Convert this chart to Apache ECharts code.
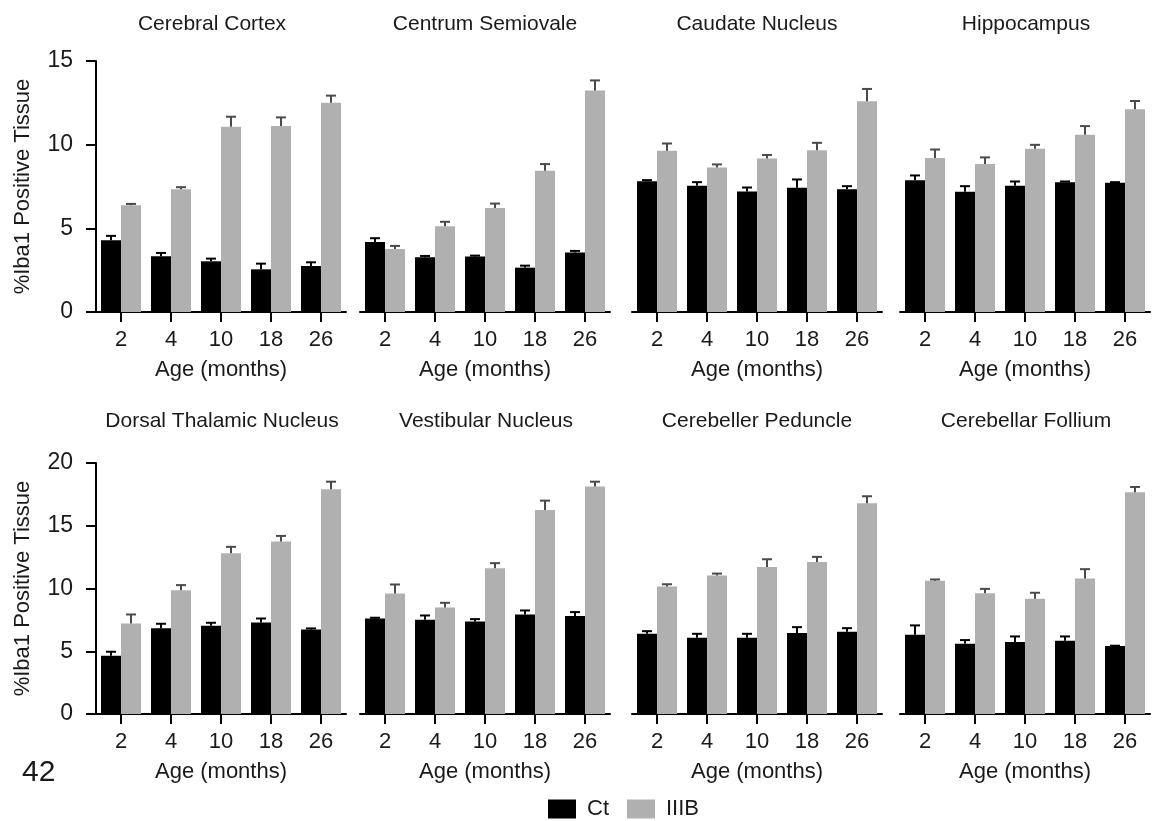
<!DOCTYPE html>
<html>
<head>
<meta charset="utf-8">
<script src="https://cdn.jsdelivr.net/npm/echarts@6/dist/echarts.min.js"></script>
<style>
  html, body { margin: 0; padding: 0; background: #fff; }
  #chart { width: 1154px; height: 821px; }
</style>
</head>
<body>
<div id="chart"></div>
<script>
// ---- Data ----
const categories = ['2', '4', '10', '18', '26'];
const regionNames = ['Cerebral Cortex', 'Centrum Semiovale', 'Caudate Nucleus', 'Hippocampus',
  'Dorsal Thalamic Nucleus', 'Vestibular Nucleus', 'Cerebeller Peduncle', 'Cerebellar Follium'];
const seriesNames = ['Ct', 'IIIB'];
const yTicksTop = [0, 5, 10, 15];
const yTicksBottom = [0, 5, 10, 15, 20];

const ctCortex = [4.29, 3.33, 3.03, 2.55, 2.75];
const ctCortexErr = [0.26, 0.20, 0.16, 0.34, 0.22];
const iiibCortex = [6.38, 7.34, 11.07, 11.11, 12.51];
const iiibCortexErr = [0.08, 0.12, 0.60, 0.52, 0.42];

const ctSemiovale = [4.19, 3.27, 3.31, 2.65, 3.55];
const ctSemiovaleErr = [0.22, 0.08, 0.06, 0.12, 0.10];
const iiibSemiovale = [3.77, 5.13, 6.22, 8.44, 13.23];
const iiibSemiovaleErr = [0.18, 0.26, 0.26, 0.40, 0.61];

const ctCaudate = [7.82, 7.54, 7.20, 7.42, 7.34];
const ctCaudateErr = [0.06, 0.22, 0.24, 0.50, 0.18];
const iiibCaudate = [9.63, 8.64, 9.18, 9.66, 12.59];
const iiibCaudateErr = [0.44, 0.18, 0.20, 0.45, 0.74];

const ctHippocampus = [7.88, 7.18, 7.54, 7.76, 7.72];
const ctHippocampusErr = [0.28, 0.34, 0.26, 0.04, 0.04];
const iiibHippocampus = [9.20, 8.84, 9.75, 10.59, 12.11];
const iiibHippocampusErr = [0.51, 0.40, 0.24, 0.52, 0.50];

const ctThalamic = [4.64, 6.84, 7.03, 7.29, 6.74];
const ctThalamicErr = [0.32, 0.35, 0.24, 0.32, 0.08];
const iiibThalamic = [7.21, 9.87, 12.81, 13.74, 17.90];
const iiibThalamicErr = [0.72, 0.40, 0.51, 0.45, 0.61];

const ctVestibular = [7.61, 7.51, 7.37, 7.93, 7.80];
const ctVestibularErr = [0.06, 0.34, 0.19, 0.32, 0.32];
const iiibVestibular = [9.60, 8.49, 11.62, 16.26, 18.12];
const iiibVestibularErr = [0.72, 0.37, 0.40, 0.74, 0.39];

const ctPeduncle = [6.39, 6.07, 6.07, 6.45, 6.55];
const ctPeduncleErr = [0.21, 0.32, 0.32, 0.47, 0.29];
const iiibPeduncle = [10.16, 11.03, 11.72, 12.12, 16.79];
const iiibPeduncleErr = [0.18, 0.16, 0.61, 0.40, 0.56];

const ctFollium = [6.31, 5.60, 5.73, 5.84, 5.41];
const ctFolliumErr = [0.75, 0.29, 0.45, 0.34, 0.03];
const iiibFollium = [10.61, 9.63, 9.18, 10.80, 17.67];
const iiibFolliumErr = [0.11, 0.34, 0.48, 0.74, 0.42];

const panels = [
  [ctCortex, ctCortexErr, iiibCortex, iiibCortexErr],
  [ctSemiovale, ctSemiovaleErr, iiibSemiovale, iiibSemiovaleErr],
  [ctCaudate, ctCaudateErr, iiibCaudate, iiibCaudateErr],
  [ctHippocampus, ctHippocampusErr, iiibHippocampus, iiibHippocampusErr],
  [ctThalamic, ctThalamicErr, iiibThalamic, iiibThalamicErr],
  [ctVestibular, ctVestibularErr, iiibVestibular, iiibVestibularErr],
  [ctPeduncle, ctPeduncleErr, iiibPeduncle, iiibPeduncleErr],
  [ctFollium, ctFolliumErr, iiibFollium, iiibFolliumErr]
];

// ---- Layout / style ----
const FONT = 'Arial, "Liberation Sans", Helvetica, sans-serif';
const TXT = '#1a1a1a';
const colors = ['#000000', '#b0b0b0'];
const errColors = ['#000000', '#4a4a4a'];
const gridLefts = [96, 360, 632, 900];
const gridWidth = 250;
const rowTops = [61, 463];
const gridHeight = 251;
const titleX = [212, 485, 757, 1026, 222, 486, 757, 1026];
const titleY = [24, 421];

const chart = echarts.init(document.getElementById('chart'), null, { renderer: 'canvas' });

const grid = [], xAxis = [], yAxis = [], series = [], graphic = [];

function errRender(group) {
  return function (params, api) {
    const x = api.value(0), v = api.value(1), e = api.value(2);
    const base = api.coord([x, v]);
    const top = api.coord([x, v + e]);
    const band = api.size([1, 0])[0];
    const cx = base[0] + (group === 0 ? -1 : 1) * band * 0.2;
    const half = band * 0.1;
    const st = { stroke: errColors[group], lineWidth: 2 };
    return {
      type: 'group',
      children: [
        { type: 'line', shape: { x1: cx, y1: base[1], x2: cx, y2: top[1] }, style: st },
        { type: 'line', shape: { x1: cx - half, y1: top[1], x2: cx + half, y2: top[1] }, style: st }
      ]
    };
  };
}

panels.forEach((p, i) => {
  const row = i < 4 ? 0 : 1;
  const col = i % 4;
  const ticks = row === 0 ? yTicksTop : yTicksBottom;
  grid.push({ left: gridLefts[col], width: gridWidth, top: rowTops[row], height: gridHeight });
  xAxis.push({
    type: 'category', gridIndex: i, data: categories,
    axisLine: { show: true, lineStyle: { color: '#000', width: 2 } },
    axisTick: { show: true, alignWithLabel: true, length: 10, lineStyle: { color: '#000', width: 2 } },
    axisLabel: { color: TXT, fontSize: 22, fontFamily: FONT, margin: 17 },
    name: 'Age (months)', nameLocation: 'middle', nameGap: 47,
    nameTextStyle: { color: TXT, fontSize: 22, fontFamily: FONT },
    splitLine: { show: false }
  });
  const showY = col === 0;
  yAxis.push({
    type: 'value', gridIndex: i, min: ticks[0], max: ticks[ticks.length - 1], interval: 5,
    show: showY,
    axisLine: { show: true, lineStyle: { color: '#000', width: 2 } },
    axisTick: { show: true, length: 10, lineStyle: { color: '#000', width: 2 } },
    axisLabel: { color: TXT, fontSize: 23, fontFamily: FONT, margin: 23 },
    splitLine: { show: false },
    name: showY ? '%Iba1 Positive Tissue' : '', nameLocation: 'middle', nameGap: 62,
    nameTextStyle: { color: TXT, fontSize: 22, fontFamily: FONT }
  });
  [0, 1].forEach(g => {
    series.push({
      name: seriesNames[g], type: 'bar', xAxisIndex: i, yAxisIndex: i,
      data: p[g * 2], barGap: '0%', barCategoryGap: '20%',
      itemStyle: { color: colors[g] }, silent: true, animation: false, z: 2
    });
  });
  [0, 1].forEach(g => {
    series.push({
      name: seriesNames[g] + ' error', type: 'custom', xAxisIndex: i, yAxisIndex: i,
      data: p[g * 2].map((v, k) => [k, v, p[g * 2 + 1][k]]),
      renderItem: errRender(g), silent: true, animation: false, z: 3
    });
  });
  graphic.push({
    type: 'text', x: titleX[i], y: titleY[row],
    style: { text: regionNames[i], fontSize: 21, fontFamily: FONT, fill: TXT, align: 'center', verticalAlign: 'middle' }
  });
});

graphic.push({
  type: 'text', x: 22, y: 773,
  style: { text: '42', fontSize: 30, fontFamily: FONT, fill: TXT, align: 'left', verticalAlign: 'middle' }
});

chart.setOption({
  backgroundColor: '#fff',
  animation: false,
  grid, xAxis, yAxis, series, graphic,
  legend: {
    data: seriesNames, left: 548, top: 798, icon: 'rect', padding: 0,
    itemWidth: 28, itemHeight: 19, itemGap: 18,
    textStyle: { color: TXT, fontSize: 22, fontFamily: FONT, padding: [0, 0, 0, 6] },
    selectedMode: false
  }
});
</script>
</body>
</html>
